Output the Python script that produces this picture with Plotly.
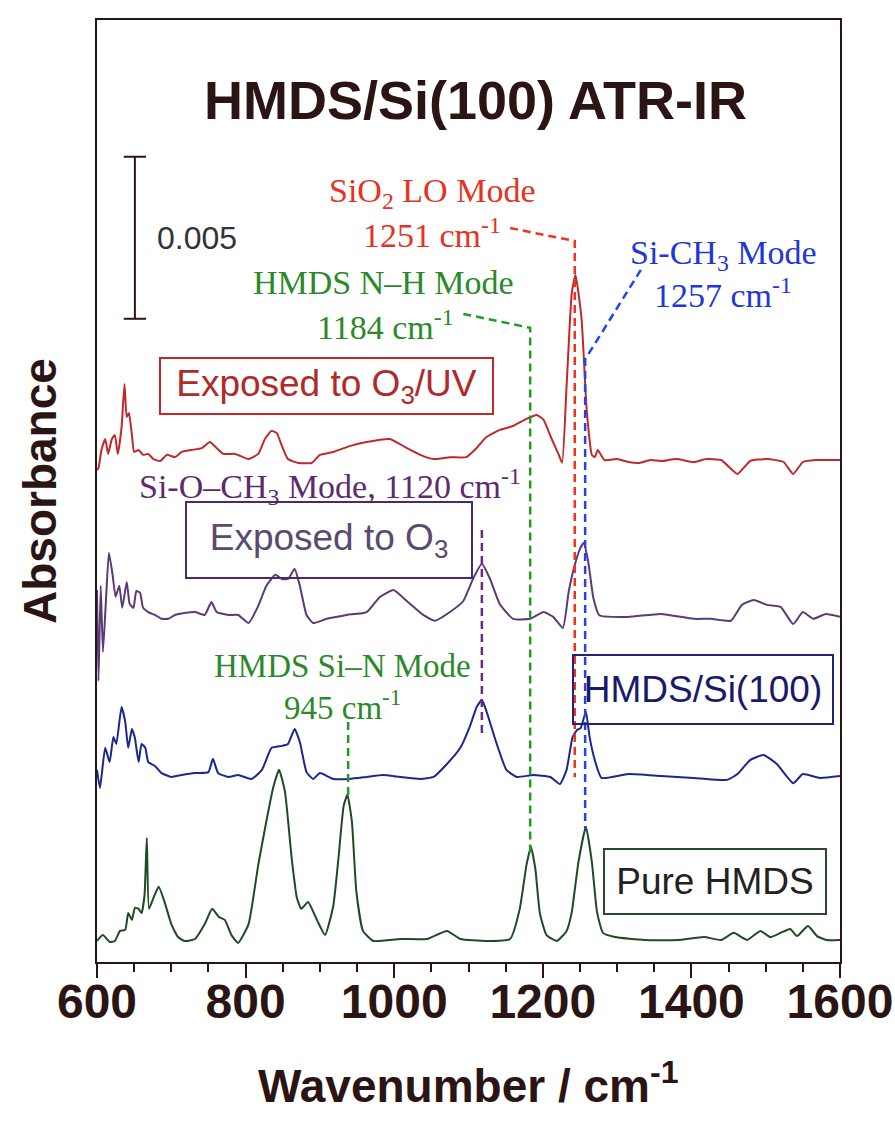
import plotly.graph_objects as go

# ---------------- data (absorbance in units of 1e-3, relative to each spectrum's baseline) -------------
wn_o3uv = [600, 602, 606, 611, 615, 620, 624, 628, 633, 637, 640, 643, 647, 650, 656, 662, 669, 676, 685,
           694, 705, 714, 727, 741, 752, 761, 770, 786, 804, 817, 826, 835, 842, 849, 857, 871, 889, 900,
           918, 940, 963, 994, 1017, 1035, 1053, 1075, 1097, 1111, 1124, 1142, 1160, 1178, 1192, 1201,
           1212, 1221, 1226, 1232, 1239, 1244, 1252, 1259, 1266, 1270, 1274, 1283, 1300, 1315, 1330, 1345,
           1359, 1380, 1403, 1420, 1440, 1462, 1479, 1502, 1524, 1537, 1550, 1568, 1600]
abs_o3uv = [-0.28, -0.22, 0.34, 0.68, 0.22, 0.68, 0.80, 0.22, 1.02, 2.38, 1.36, 1.48, 0.80, 0.28, 0.34, 0.19,
            0.22, 0.06, 0.00, 0.19, 0.12, 0.28, 0.34, 0.40, 0.59, 0.40, 0.22, 0.22, 0.06, 0.22, 0.68, 0.93,
            0.86, 0.46, 0.06, -0.06, -0.06, 0.19, 0.28, 0.46, 0.59, 0.68, 0.40, 0.19, 0.06, 0.12, 0.12, 0.40,
            0.74, 0.96, 1.08, 1.30, 1.42, 1.27, 0.68, 0.22, -0.05, 2.31, 5.19, 5.74, 4.44, 1.60, 0.19, 0.12,
            0.34, 0.03, 0.06, -0.03, -0.06, 0.03, 0.00, 0.06, -0.03, 0.06, 0.03, -0.40, 0.00, 0.06, -0.03,
            -0.40, -0.03, 0.03, 0.03]

wn_o3 = [600, 602, 605, 608, 612, 616, 621, 625, 630, 634, 640, 644, 649, 653, 658, 662, 669, 678, 687, 696,
         705, 718, 732, 745, 754, 761, 777, 790, 804, 817, 828, 840, 849, 857, 866, 873, 882, 891, 909, 936,
         963, 981, 999, 1017, 1039, 1055, 1075, 1093, 1106, 1118, 1129, 1142, 1160, 1183, 1201, 1214, 1227,
         1235, 1243, 1250, 1255, 1261, 1268, 1276, 1315, 1359, 1403, 1426, 1453, 1468, 1484, 1502, 1520,
         1537, 1550, 1564, 1581, 1600]
abs_o3 = [0.83, -1.98, 0.96, -1.08, 0.49, 1.98, 1.30, 0.62, 0.96, 0.28, 1.08, 0.40, 0.28, 0.80, 0.74, 0.28,
          0.15, 0.06, -0.06, -0.06, 0.06, 0.12, 0.15, 0.06, 0.46, 0.15, 0.06, 0.06, -0.19, 0.34, 0.96, 1.30,
          1.17, 1.17, 1.48, 0.96, 0.06, -0.19, -0.06, 0.06, 0.15, 0.62, 0.83, 0.49, 0.06, -0.12, 0.15, 0.49,
          1.17, 1.64, 1.17, 0.40, -0.06, -0.06, 0.15, 0.00, -0.34, 0.80, 1.60, 2.10, 2.28, 1.73, 0.59, 0.05,
          0.00, 0.09, -0.06, -0.06, -0.12, 0.37, 0.52, 0.37, 0.31, -0.22, 0.15, -0.06, 0.09, 0.00]

wn_film = [600, 604, 611, 617, 622, 626, 633, 638, 642, 647, 651, 656, 660, 665, 669, 678, 687, 700, 714, 732,
           750, 756, 763, 777, 790, 808, 822, 835, 849, 857, 866, 873, 882, 891, 900, 918, 940, 963, 985, 1008,
           1035, 1053, 1071, 1089, 1102, 1111, 1118, 1124, 1138, 1151, 1165, 1187, 1210, 1223, 1232, 1240,
           1246, 1251, 1258, 1263, 1270, 1279, 1315, 1359, 1403, 1448, 1462, 1479, 1497, 1515, 1537, 1550,
           1573, 1600]
abs_film = [0.22, -0.34, 0.90, 0.46, 1.23, 1.02, 2.16, 1.70, 0.90, 1.48, 1.20, 0.46, 1.02, 0.90, 0.46, 0.34,
            0.12, 0.00, 0.06, 0.12, 0.15, 0.56, 0.12, 0.00, 0.06, -0.06, 0.22, 0.90, 0.96, 1.02, 1.48, 1.08,
            0.15, -0.06, 0.12, -0.06, -0.06, 0.00, 0.06, 0.00, -0.06, 0.00, 0.40, 0.90, 1.57, 2.16, 2.38, 2.04,
            1.02, 0.22, 0.00, 0.06, 0.00, -0.22, 0.22, 1.23, 1.45, 1.51, 2.01, 1.23, 0.52, -0.03, 0.09, 0.03,
            -0.03, -0.09, 0.09, 0.52, 0.68, 0.40, -0.19, 0.09, -0.03, 0.03]

wn_pure = [600, 608, 617, 624, 631, 638, 642, 647, 651, 656, 660, 664, 667, 670, 676, 683, 691, 700, 709, 718,
           732, 745, 755, 764, 772, 781, 790, 804, 817, 828, 837, 845, 853, 862, 869, 875, 884, 896, 907, 918,
           925, 932, 937, 943, 949, 958, 972, 1008, 1044, 1071, 1089, 1124, 1156, 1169, 1178, 1184, 1190, 1196,
           1205, 1219, 1232, 1239, 1248, 1258, 1266, 1273, 1281, 1297, 1337, 1382, 1417, 1440, 1457, 1475,
           1493, 1506, 1520, 1533, 1542, 1557, 1569, 1582, 1600]
abs_pure = [-0.03, 0.15, -0.06, -0.03, 0.28, 0.31, 0.83, 0.62, 0.99, 0.96, 0.83, 1.39, 3.15, 0.96, 1.30, 1.64,
            1.17, 0.49, 0.09, -0.03, 0.03, 0.49, 0.96, 0.71, 0.62, 0.15, -0.09, 0.49, 2.31, 3.67, 4.69, 5.25,
            4.57, 2.53, 1.30, 0.96, 1.17, 0.62, 0.15, 1.05, 2.53, 4.14, 4.48, 3.67, 1.51, 0.28, -0.03, 0.03,
            0.03, 0.28, 0.03, -0.03, 0.03, 0.96, 2.31, 2.87, 2.19, 0.83, 0.15, -0.03, 0.28, 0.86, 2.41, 3.49,
            2.41, 0.86, 0.22, 0.09, 0.00, 0.00, 0.09, 0.00, 0.22, 0.00, 0.28, 0.09, 0.22, 0.34, 0.12, 0.43,
            0.12, 0.00, 0.00]

# vertical stacking offsets (1e-3 absorbance units)
OFFSETS = {"o3uv": 15.46, "o3": 10.65, "film": 5.71, "pure": 0.68}
SCALE_BAR = 5.0  # 0.005 absorbance

x_ticks = [600, 800, 1000, 1200, 1400, 1600]

# ---------------- figure -------------------------------------------------------------------------------
DARK = "#2b1414"
SERIF = "Liberation Serif, Times New Roman, serif"
SANS = "Liberation Sans, Arial, sans-serif"

fig = go.Figure()

spectra = [
    (wn_o3uv, abs_o3uv, OFFSETS["o3uv"], "#c0282a"),
    (wn_o3, abs_o3, OFFSETS["o3"], "#5b3a78"),
    (wn_film, abs_film, OFFSETS["film"], "#1c2690"),
    (wn_pure, abs_pure, OFFSETS["pure"], "#1f4a23"),
]
for wn, a, off, col in spectra:
    fig.add_trace(go.Scatter(x=wn, y=[v + off for v in a], mode="lines",
                             line=dict(color=col, width=2, shape="spline", smoothing=0.45),
                             showlegend=False, hoverinfo="skip"))

# peak-assignment leader lines (dashed)
def dashed(xs, ys, col):
    fig.add_trace(go.Scatter(x=xs, y=ys, mode="lines",
                             line=dict(color=col, width=2.5, dash="8px,5px"),
                             showlegend=False, hoverinfo="skip"))

dashed([1156, 1243, 1243], [22.65, 22.25, 5.7], "#ee3322")          # SiO2 LO 1251
dashed([1093, 1183, 1183], [20.0, 19.57, 3.3], "#229922")           # N-H 1184
dashed([1332, 1257, 1257], [21.36, 18.6, 4.1], "#2244ee")           # Si-CH3 1257
dashed([938, 938], [7.41, 5.0], "#229922")                          # Si-N 945
dashed([1118, 1118], [13.33, 7.07], "#6a2a8a")                      # Si-O-CH3 1120

# scale bar (0.005)
sb_x, sb_y0, cap = 651, 19.85, 15
fig.add_trace(go.Scatter(x=[sb_x, sb_x, None, sb_x - cap, sb_x + cap, None, sb_x - cap, sb_x + cap],
                         y=[sb_y0, sb_y0 + SCALE_BAR, None, sb_y0, sb_y0, None,
                            sb_y0 + SCALE_BAR, sb_y0 + SCALE_BAR],
                         mode="lines", line=dict(color=DARK, width=2),
                         showlegend=False, hoverinfo="skip"))

ann = []
ann.append(dict(x=735, y=sb_y0 + SCALE_BAR / 2, text="0.005", showarrow=False,
                xanchor="center", yanchor="middle",
                font=dict(family=SANS, size=32, color="#333333")))

serif_labels = [
    (1051, 23.73, "SiO<sub>2</sub> LO Mode", "#e53222", 34),
    (1051, 22.50, "1251 cm<sup>-1</sup>", "#e53222", 34),
    (986, 20.96, "HMDS N–H Mode", "#2a8a2a", 34),
    (988, 19.66, "1184 cm<sup>-1</sup>", "#2a8a2a", 34),
    (1443, 21.82, "Si-CH<sub>3</sub> Mode", "#2236d8", 34),
    (1443, 20.65, "1257 cm<sup>-1</sup>", "#2236d8", 34),
    (914, 14.66, "Si-O–CH<sub>3</sub> Mode, 1120 cm<sup>-1</sup>", "#5e2a6e", 34),
    (930, 9.12, "HMDS Si–N Mode", "#2a8a2a", 33),
    (930, 7.94, "945 cm<sup>-1</sup>", "#2a8a2a", 33),
]
for x, y, t, c, s in serif_labels:
    ann.append(dict(x=x, y=y, text=t, showarrow=False, xanchor="center", yanchor="middle",
                    font=dict(family=SERIF, size=s, color=c)))

boxes = [
    (909, 17.78, "Exposed to O<sub>3</sub>/UV", "#b02a2a", "#c0282a", 331, 54),
    (912, 13.02, "Exposed to O<sub>3</sub>", "#5a4a6e", "#4a2a6a", 284, 74),
    (1415.6, 8.41, "HMDS/Si(100)", "#1a1a6a", "#22227a", 258, 67),
    (1431.8, 2.48, "Pure HMDS", "#222222", "#2a4a2a", 220, 63),
]
for x, y, t, tc, bc, w, h in boxes:
    ann.append(dict(x=x, y=y, text=t, showarrow=False, width=w, height=h, valign="middle",
                    xanchor="center", yanchor="middle",
                    bordercolor=bc, borderwidth=2, borderpad=0, bgcolor="rgba(0,0,0,0)",
                    font=dict(family=SANS, size=37, color=tc)))

# title and axis titles
ann.append(dict(xref="paper", yref="paper", x=0.509, y=0.915, xanchor="center", yanchor="middle",
                text="HMDS/Si(100) ATR-IR", showarrow=False,
                font=dict(family=SANS, size=54, color=DARK, weight="bold")))
ann.append(dict(xref="paper", yref="paper", x=-0.0767, y=0.5, xanchor="center", yanchor="middle",
                text="Absorbance", textangle=-90, showarrow=False,
                font=dict(family=SANS, size=46, color=DARK, weight="bold")))
ann.append(dict(xref="paper", yref="paper", x=0.5, y=-0.1285, xanchor="center", yanchor="middle",
                text="Wavenumber / cm<sup>-1</sup>", showarrow=False,
                font=dict(family=SANS, size=46, color=DARK, weight="bold")))

fig.update_layout(
    template="none",
    width=895, height=1121,
    margin=dict(l=97, r=55, t=20, b=159, autoexpand=False),
    paper_bgcolor="white", plot_bgcolor="white",
    annotations=ann,
    xaxis=dict(range=[600, 1600], tickvals=x_ticks, ticks="outside", ticklen=14, tickwidth=2,
               tickcolor=DARK, showline=True, linecolor=DARK, linewidth=2, mirror=True,
               showgrid=False, zeroline=False, automargin=False, ticklabelstandoff=-18,
               minor=dict(dtick=50, tick0=600, ticks="outside", ticklen=8, tickwidth=2, tickcolor=DARK,
                          showgrid=False),
               tickfont=dict(family=SANS, size=48, color=DARK, weight="bold")),
    yaxis=dict(range=[0, 29.07], showticklabels=False, ticks="", showline=True, linecolor=DARK,
               linewidth=2, mirror=True, showgrid=False, zeroline=False, automargin=False),
)

fig.write_html("out.html")
